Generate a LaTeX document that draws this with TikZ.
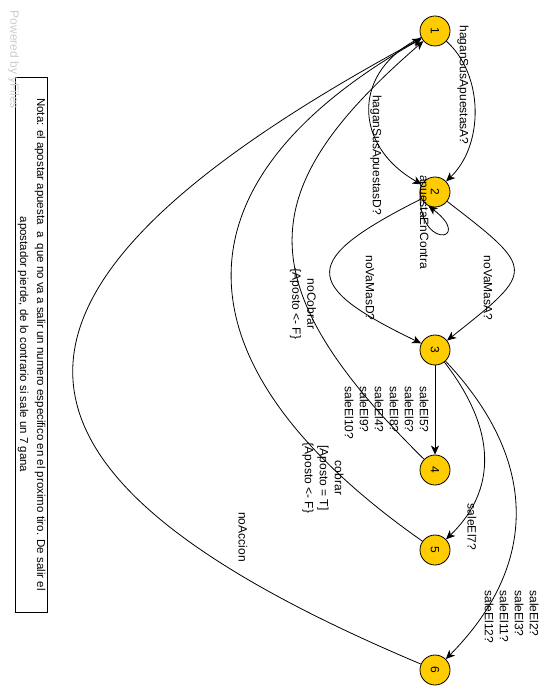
\documentclass[tikz,border=0pt]{standalone}
\usepackage{fontspec}
\setmainfont{Liberation Sans}
\usetikzlibrary{arrows.meta}
\definecolor{oro}{HTML}{FFCC00}
\begin{document}
\begin{tikzpicture}[x=1pt, y=-1pt, line width=0.8pt,
        estado/.style={circle, draw, fill=oro, minimum size=30pt, inner sep=0pt, rotate=-90, font=\fontsize{12}{15}\selectfont},
        etiq/.style={rotate=-90, inner sep=0pt, font=\fontsize{12}{15}\selectfont},
        trans/.style={-{Stealth[length=9pt, width=8pt, inset=2.5pt]}}]

        \useasboundingbox (0, 0) rectangle (559, 700);

        \node[estado] (e1) at (435, 31) {1};
        \node[estado] (e2) at (435, 192) {2};
        \node[estado] (e3) at (435, 350) {3};
        \node[estado] (e4) at (435, 470) {4};
        \node[estado] (e5) at (435, 550) {5};
        \node[estado] (e6) at (435, 670) {6};

        \draw[trans] (e1) .. controls (484, 75) and (484, 145) .. (e2);
        \draw[trans] (e1) .. controls (352, 70) and (352, 145) .. (e2);
        \draw[trans] (e2.250) .. controls (414, 252) and (476, 242) .. (e2.-25);
        \draw[trans] (e2) .. controls (300, 260) and (300, 285) .. (e3);
        \draw[trans] (e2) .. controls (536, 270) and (536, 270) .. (e3);
        \draw[trans] (e3) -- (e4);
        \draw[trans] (e3) .. controls (497, 430) and (497, 490) .. (e5);
        \draw[trans] (e3) .. controls (539, 460) and (539, 565) .. (e6);
        \draw[trans] (e4) .. controls (243, 281) and (255, 187) .. (e1);
        \draw[trans] (e5) .. controls (177, 369) and (160, 187) .. (e1);
        \draw[trans] (e6) .. controls (-40, 470) and (-45, 290) .. (e1);

        \node[etiq] (l12a) at (463, 85) {haganSusApuestasA?};
        \node[etiq] (l12d) at (376, 155) {haganSusApuestasD?};
        \node[etiq] (l22) at (423, 222) {apuestaEnContra};
        \node[etiq] (l23d) at (370, 288) {noVaMasD?};
        \node[etiq] (l23a) at (488, 288) {noVaMasA?};
        \node[etiq, align=left, anchor=north west] (l34) at (429, 386) {saleEl5?\\saleEl6?\\saleEl8?\\saleEl4?\\saleEl9?\\saleEl10?};
        \node[etiq] (l35) at (472, 527) {saleEl7?};
        \node[etiq, align=left, anchor=north west] (l36) at (539, 590) {saleEl2?\\saleEl3?\\saleEl11?\\saleEl12?};
        \node[etiq, align=center] (l41) at (303, 304) {noCobrar\\\{Aposto <- F\}};
        \node[etiq, align=center] (l51) at (323, 478) {cobrar\\{}[Aposto = T]\\\{Aposto <- F\}};
        \node[etiq] (l61) at (243, 537) {noAccion};

        \node[draw, rotate=-90, minimum width=535pt, minimum height=32pt, inner sep=0pt, align=center,
              font=\fontsize{11.5}{17}\selectfont] (nota) at (31.5, 344.5)
              {Nota: el apostar apuesta\ \ a\ \ que no va a salir un numero especifico en el proximo tiro. De salir el\\apostador pierde, de lo contrario si sale un 7 gana};
        \node[rotate=-90, inner sep=0pt, text=black!20, font=\fontsize{12}{15}\selectfont] (yf) at (13.5, 60) {Powered by yFiles};
\end{tikzpicture}
\end{document}
